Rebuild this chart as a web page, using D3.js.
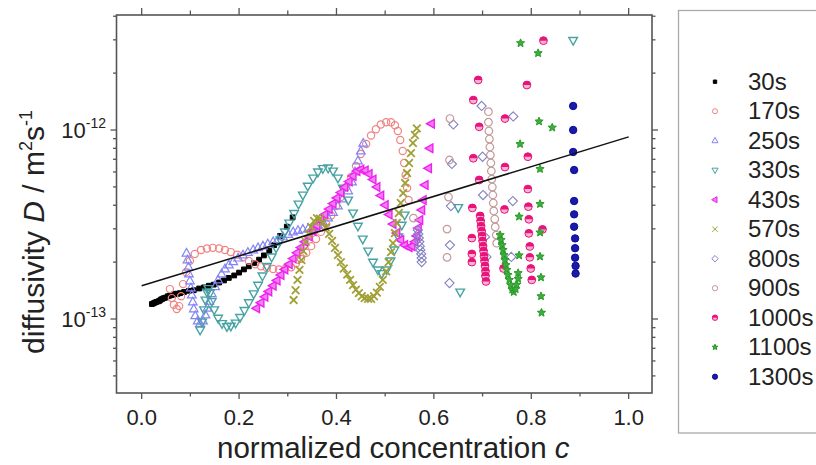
<!DOCTYPE html>
<html>
<head>
<meta charset="utf-8">
<script src="https://cdn.jsdelivr.net/npm/d3@7"></script>
<style>
  body { margin: 0; background: #fff; }
  svg { display: block; font-family: "Liberation Sans", Arial, sans-serif; }
</style>
</head>
<body>
<svg id="chart" width="816" height="465"></svg>
<script>
// D values are given in units of 1e-13 m^2/s, c is the normalized concentration
const UNIT = 1e-13;

const s30 = [[0.021,1.20],[0.024,1.21],[0.027,1.22],[0.030,1.23],[0.034,1.24],[0.037,1.25],[0.040,1.27],[0.043,1.28],
  [0.046,1.29],[0.050,1.30],[0.054,1.32],[0.058,1.33],[0.062,1.34],[0.066,1.35],[0.070,1.36],[0.074,1.36],[0.079,1.37],
  [0.087,1.39],[0.097,1.41],[0.107,1.42],[0.118,1.45],[0.128,1.47],[0.138,1.50],[0.148,1.52],[0.159,1.56],[0.169,1.60],
  [0.179,1.65],[0.190,1.70],[0.200,1.76],[0.210,1.83],[0.220,1.90],[0.231,1.98],[0.241,2.06],[0.251,2.17],[0.262,2.29],
  [0.272,2.46],[0.284,2.75],[0.298,3.08],[0.310,3.45]];

const s170 = [[0.058,1.44],[0.062,1.29],[0.066,1.19],[0.072,1.13],[0.077,1.17],[0.081,1.32],[0.085,1.53],[0.091,1.77],
  [0.099,2.03],[0.109,2.21],[0.122,2.32],[0.134,2.36],[0.146,2.38],[0.159,2.36],[0.171,2.32],[0.183,2.26],[0.196,2.19],
  [0.208,2.12],[0.220,2.03],[0.233,1.95],[0.245,1.90],[0.257,1.86],[0.270,1.84],[0.282,1.83],[0.294,1.84],[0.307,1.88],
  [0.317,1.97],[0.327,2.08],[0.338,2.24],[0.348,2.43],[0.358,2.65],[0.368,2.89],[0.379,3.18],[0.389,3.53],[0.399,3.96],
  [0.409,4.42],[0.420,4.99],[0.430,5.64],[0.440,6.45],[0.450,7.46],[0.461,8.43],[0.471,9.35],[0.481,10.1],[0.491,10.7],
  [0.502,11.0],[0.512,11.0],[0.520,10.6],[0.526,9.88],[0.531,8.85],[0.536,7.74],[0.539,6.69],[0.542,5.78],[0.545,4.93],
  [0.548,4.26]];

const s250 = [[0.092,2.23],[0.094,2.05],[0.096,1.88],[0.097,1.73],[0.099,1.59],[0.101,1.46],[0.103,1.34],[0.105,1.23],
  [0.107,1.13],[0.110,1.04],[0.115,0.976],[0.120,0.947],[0.126,0.976],[0.131,1.05],[0.135,1.14],[0.139,1.24],[0.144,1.36],
  [0.151,1.48],[0.157,1.61],[0.164,1.73],[0.171,1.84],[0.179,1.93],[0.188,2.01],[0.198,2.10],[0.208,2.18],[0.218,2.25],
  [0.229,2.32],[0.239,2.38],[0.249,2.43],[0.259,2.49],[0.270,2.56],[0.280,2.63],[0.290,2.72],[0.301,2.80],[0.311,2.89],
  [0.321,2.94],[0.331,2.98],[0.342,3.01],[0.352,3.07],[0.362,3.14],[0.372,3.26],[0.383,3.42],[0.393,3.66],[0.403,3.96],
  [0.413,4.32],[0.424,4.76],[0.432,5.31],[0.438,6.00],[0.444,6.86],[0.450,7.74],[0.455,8.51]];

const s330 = [[0.120,0.875],[0.124,0.964],[0.128,1.12],[0.131,1.26],[0.134,1.39],[0.137,1.45],[0.140,1.37],[0.144,1.24],
  [0.149,1.12],[0.157,1.01],[0.165,0.947],[0.175,0.913],[0.183,0.918],[0.193,0.953],[0.202,1.02],[0.211,1.11],[0.220,1.22],
  [0.230,1.36],[0.239,1.51],[0.248,1.69],[0.257,1.90],[0.267,2.13],[0.276,2.38],[0.285,2.62],[0.294,2.89],[0.303,3.22],
  [0.313,3.62],[0.322,4.06],[0.331,4.53],[0.341,5.05],[0.352,5.57],[0.362,6.00],[0.372,6.26],[0.383,6.30],[0.393,6.07],
  [0.403,5.57],[0.413,4.93],[0.424,4.26],[0.434,3.64],[0.444,3.10],[0.454,2.65],[0.465,2.29],[0.475,2.00],[0.485,1.82],
  [0.493,1.74],[0.503,1.82],[0.511,2.03],[0.519,2.32],[0.527,2.72],[0.534,3.14],[0.540,3.55],
  [0.650,3.89],[0.654,1.39],[0.886,29.8]];

const s430 = [[0.236,1.14],[0.245,1.22],[0.253,1.31],[0.261,1.40],[0.270,1.50],[0.278,1.60],[0.286,1.71],[0.294,1.83],
  [0.303,1.95],[0.311,2.09],[0.319,2.24],[0.327,2.39],[0.335,2.56],[0.344,2.73],[0.352,2.92],[0.360,3.12],[0.368,3.34],
  [0.376,3.57],[0.385,3.82],[0.393,4.08],[0.401,4.37],[0.409,4.67],[0.417,4.99],[0.426,5.34],[0.434,5.71],[0.442,6.07],
  [0.450,6.18],[0.459,6.11],[0.467,5.85],[0.475,5.47],[0.483,4.99],[0.491,4.50],[0.500,4.01],[0.508,3.57],[0.516,3.18],
  [0.524,2.85],[0.532,2.62],[0.540,2.46],[0.549,2.40],[0.555,2.43],[0.561,2.56],[0.565,2.75],[0.568,3.03],
  [0.571,3.34],[0.575,3.77],[0.578,4.26],[0.582,5.12],[0.589,6.27],[0.592,8.00],[0.595,10.8]];

const s570 = [[0.312,1.26],[0.316,1.42],[0.320,1.61],[0.324,1.82],[0.328,2.05],[0.332,2.29],[0.337,2.56],[0.343,2.82],
  [0.348,3.07],[0.354,3.30],[0.360,3.42],[0.366,3.40],[0.372,3.26],[0.378,3.05],[0.385,2.82],[0.391,2.59],[0.397,2.38],
  [0.403,2.18],[0.409,2.00],[0.415,1.85],[0.422,1.72],[0.428,1.61],[0.434,1.51],[0.440,1.43],[0.446,1.37],[0.452,1.32],
  [0.458,1.29],[0.465,1.28],[0.471,1.28],[0.477,1.32],[0.483,1.38],[0.489,1.48],[0.495,1.61],[0.502,1.79],[0.507,2.00],
  [0.512,2.26],[0.516,2.52],[0.520,2.85],[0.524,3.22],[0.528,3.64],[0.532,4.11],[0.537,4.64],[0.541,5.24],[0.545,5.92],
  [0.549,6.69],[0.553,7.55],[0.557,8.54],[0.561,9.41],[0.565,10.2]];

const s800 = [[0.567,2.96],[0.568,2.82],[0.569,2.68],[0.570,2.56],[0.571,2.43],[0.572,2.32],[0.574,2.21],[0.575,2.10],
  [0.575,2.00],[0.640,10.7],[0.637,6.61],[0.635,3.96],[0.633,2.46],[0.632,1.55],[0.698,13.4],[0.700,7.22],[0.701,4.53],
  [0.705,2.72],[0.708,2.13],[0.763,11.8],[0.762,4.21],[0.759,2.13]];

const s900 = [[0.712,12.5],[0.712,11.0],[0.713,9.88],[0.714,8.96],[0.715,8.13],[0.716,7.37],[0.717,6.69],[0.718,6.07],
  [0.719,5.50],[0.720,4.99],[0.721,4.53],[0.722,4.11],[0.723,3.73],[0.725,3.38],[0.726,3.07],[0.728,2.78],[0.729,2.52],
  [0.633,11.5],[0.632,6.94],[0.630,4.42],[0.627,2.99],[0.627,2.12],[0.558,3.42]];

const s1000 = [[0.825,29.7],[0.691,18.4],[0.791,17.3],[0.681,14.4],[0.746,11.5],[0.693,10.4],[0.793,7.22],[0.681,7.09],
  [0.746,6.37],[0.693,5.44],[0.793,4.87],[0.679,3.87],[0.745,3.80],[0.794,3.93],[0.795,3.37],[0.823,2.98],[0.795,2.84],
  [0.678,2.68],[0.797,2.42],[0.678,2.21],[0.678,2.00],[0.797,2.12],[0.799,1.85],[0.801,1.61],[0.743,1.85],
  [0.695,3.51],[0.696,3.30],[0.697,3.10],[0.698,2.92],[0.699,2.75],[0.700,2.59],[0.701,2.43],[0.702,2.29],[0.703,2.15],
  [0.704,2.03],[0.705,1.91],[0.706,1.79],[0.706,1.69],[0.707,1.58]];

const s1100 = [[0.778,28.8],[0.814,25.5],[0.816,11.1],[0.843,10.3],[0.777,8.43],[0.818,6.22],[0.818,4.06],[0.775,3.48],
  [0.818,2.87],[0.775,2.17],[0.818,2.14],[0.773,1.75],[0.820,1.66],[0.820,1.32],[0.821,1.08],
  [0.736,2.78],[0.738,2.62],[0.740,2.46],[0.742,2.32],[0.744,2.18],[0.746,2.05],[0.748,1.93],[0.750,1.82],[0.752,1.71],
  [0.755,1.61],[0.758,1.51],[0.761,1.43],[0.764,1.39],[0.768,1.44],[0.770,1.52],[0.773,1.63]];

const s1300 = [[0.886,13.4],[0.886,10.0],[0.886,7.65],[0.888,6.14],[0.888,4.21],[0.888,3.58],[0.888,3.08],[0.890,2.67],
  [0.890,2.37],[0.890,2.11],[0.891,1.91],[0.891,1.74]];

// straight fit line (exponential in c)
const fitC = [0.0, 1.0];
const fitD = [1.50, 9.2];

const xMajor = [0.0, 0.2, 0.4, 0.6, 0.8, 1.0];
const xMinor = [0.1, 0.3, 0.5, 0.7, 0.9];
const yMajor = [1e-13, 1e-12];
const yLabels = ["-13", "-12"];

const series = [
  { name: "30s", data: s30, shape: "square", size: 2.4, sw: 1, stroke: "#000", fill: "#000" },
  { name: "170s", data: s170, shape: "circle", size: 3.6, sw: 1.2, stroke: "#f08484", fill: "none" },
  { name: "250s", data: s250, shape: "triUp", size: 4.8, sw: 1.2, stroke: "#8484f4", fill: "none" },
  { name: "330s", data: s330, shape: "triDown", size: 4.8, sw: 1.4, stroke: "#47a2a2", fill: "none" },
  { name: "430s", data: s430, shape: "triLeft", size: 4.8, sw: 1.4, stroke: "#ee22ee", fill: "#f47cf4" },
  { name: "570s", data: s570, shape: "cross", size: 3.8, sw: 1.8, stroke: "#a0a036", fill: "none" },
  { name: "800s", data: s800, shape: "diamond", size: 4.6, sw: 1.1, stroke: "#8282c2", fill: "none" },
  { name: "900s", data: s900, shape: "circle", size: 3.8, sw: 1.2, stroke: "#c49a9a", fill: "none" },
  { name: "1000s", data: s1000, shape: "half", size: 3.9, sw: 1, stroke: "#e8147a", fill: "#f7b3d3" },
  { name: "1100s", data: s1100, shape: "star", size: 4.3, sw: 1, stroke: "#2a9a2a", fill: "#3cae3c" },
  { name: "1300s", data: s1300, shape: "circle", size: 3.7, sw: 1, stroke: "#0c0c96", fill: "#1a1aa8" },
];

const shapes = {
  square: (s) => `M${-s},${-s}h${2 * s}v${2 * s}h${-2 * s}Z`,
  circle: (r) => `M${r},0A${r},${r},0,1,1,${-r},0A${r},${r},0,1,1,${r},0Z`,
  triUp: (r) => `M0,${-r}L${r * 0.9},${r * 0.6}L${-r * 0.9},${r * 0.6}Z`,
  triDown: (r) => `M0,${r}L${r * 0.9},${-r * 0.6}L${-r * 0.9},${-r * 0.6}Z`,
  triLeft: (r) => `M${-r},0L${r * 0.6},${-r * 0.9}L${r * 0.6},${r * 0.9}Z`,
  cross: (r) => `M${-r},${-r}L${r},${r}M${-r},${r}L${r},${-r}`,
  diamond: (r) => `M0,${-r}L${r},0L0,${r}L${-r},0Z`,
  half: (r) => `M${r},0A${r},${r},0,1,1,${-r},0A${r},${r},0,1,1,${r},0Z`,
  star: (r) => {
    const pts = d3.range(10).map((i) => {
      const a = -Math.PI / 2 + (i * Math.PI) / 5;
      const rr = i % 2 ? r * 0.45 : r;
      return [rr * Math.cos(a), rr * Math.sin(a)].map((v) => v.toFixed(2)).join(",");
    });
    return "M" + pts.join("L") + "Z";
  },
};
const topHalf = (r) => `M${-r},0A${r},${r},0,0,1,${r},0Z`;

const svg = d3.select("#chart");
const margin = { left: 116.5, right: 652, top: 15, bottom: 393 };

const x = d3.scaleLinear().domain([-0.0517, 1.0479]).range([margin.left, margin.right]);
const y = d3.scaleLog().domain([4.06e-14, 4.06e-12]).range([margin.bottom, margin.top]);

const axisColor = "#555";

// minor log ticks 2..9 per decade
const yMinor = [];
[-14, -13, -12].forEach((e) => {
  d3.range(2, 10).forEach((k) => {
    const v = k * Math.pow(10, e);
    if (v > y.domain()[0] && v < y.domain()[1]) yMinor.push(v);
  });
});

const ticks = svg.append("g").attr("stroke", axisColor).attr("stroke-width", 1.3);
const tickLen = { major: 6, minor: 3.5 };

// bottom and top
[[xMajor, tickLen.major], [xMinor, tickLen.minor]].forEach(([vals, len]) => {
  ticks.selectAll(null).data(vals).join("line")
    .attr("x1", (d) => x(d)).attr("x2", (d) => x(d))
    .attr("y1", margin.bottom).attr("y2", margin.bottom + len);
  ticks.selectAll(null).data(vals).join("line")
    .attr("x1", (d) => x(d)).attr("x2", (d) => x(d))
    .attr("y1", margin.top).attr("y2", margin.top - len - 1);
});
// left and right
[[yMajor, tickLen.major], [yMinor, tickLen.minor]].forEach(([vals, len]) => {
  ticks.selectAll(null).data(vals).join("line")
    .attr("y1", (d) => y(d)).attr("y2", (d) => y(d))
    .attr("x1", margin.left).attr("x2", margin.left - len);
  ticks.selectAll(null).data(vals).join("line")
    .attr("y1", (d) => y(d)).attr("y2", (d) => y(d))
    .attr("x1", margin.right).attr("x2", margin.right + len);
});

// frame
svg.append("rect")
  .attr("x", margin.left).attr("y", margin.top)
  .attr("width", margin.right - margin.left)
  .attr("height", margin.bottom - margin.top)
  .attr("fill", "none").attr("stroke", axisColor).attr("stroke-width", 1.6);

// tick labels
svg.append("g").selectAll("text").data(xMajor).join("text")
  .attr("x", (d) => x(d)).attr("y", 425)
  .attr("text-anchor", "middle").attr("font-size", 22).attr("fill", "#222")
  .text((d) => d.toFixed(1));

const yl = svg.append("g").selectAll("text").data(yMajor).join("text")
  .attr("x", 106).attr("y", (d) => y(d) + 7.5)
  .attr("text-anchor", "end").attr("font-size", 22).attr("fill", "#222");
yl.append("tspan").text("10");
yl.append("tspan").attr("dy", -10).attr("font-size", 14).text((d, i) => yLabels[i]);

// axis titles
const xt = svg.append("text")
  .attr("x", 217).attr("y", 458)
  .attr("font-size", 29.5).attr("fill", "#222");
xt.append("tspan").text("normalized concentration ");
xt.append("tspan").attr("font-style", "italic").text("c");

const yt = svg.append("text")
  .attr("transform", "translate(44,232) rotate(-90)")
  .attr("text-anchor", "middle").attr("font-size", 30).attr("fill", "#222");
yt.append("tspan").text("diffusivity ");
yt.append("tspan").attr("font-style", "italic").text("D");
yt.append("tspan").text(" / m");
yt.append("tspan").attr("dy", -12).attr("font-size", 18).text("2");
yt.append("tspan").attr("dy", 12).text("s");
yt.append("tspan").attr("dy", -12).attr("font-size", 18).text("-1");

// data markers
const plot = svg.append("g");
series.forEach((s) => {
  const sg = plot.append("g").attr("class", `series s${s.name}`);
  sg.selectAll("path.mk").data(s.data).join("path")
    .attr("class", "mk")
    .attr("transform", (d) => `translate(${x(d[0])},${y(d[1] * UNIT)})`)
    .attr("d", shapes[s.shape](s.size))
    .attr("fill", s.fill)
    .attr("stroke", s.stroke)
    .attr("stroke-width", s.sw);
  if (s.shape === "half") {
    sg.selectAll("path.top").data(s.data).join("path")
      .attr("class", "top")
      .attr("transform", (d) => `translate(${x(d[0])},${y(d[1] * UNIT)})`)
      .attr("d", topHalf(s.size))
      .attr("fill", s.stroke);
  }
});

// fit line
const line = d3.line().x((d) => x(d[0])).y((d) => y(d[1] * UNIT));
svg.append("path")
  .datum(fitC.map((c, i) => [c, fitD[i]]))
  .attr("d", line)
  .attr("fill", "none").attr("stroke", "#111").attr("stroke-width", 1.5);

// legend
svg.append("rect")
  .attr("x", 678.5).attr("y", 10.5).attr("width", 200).attr("height", 422.5)
  .attr("fill", "none").attr("stroke", "#aaa").attr("stroke-width", 1.3);

const legend = svg.append("g").selectAll("g").data(series).join("g")
  .attr("transform", (d, i) => `translate(715,${81.7 + i * 29.5})`);
legend.append("path")
  .attr("d", (d) => shapes[d.shape](d.size * 0.7))
  .attr("fill", (d) => d.fill)
  .attr("stroke", (d) => d.stroke)
  .attr("stroke-width", 1);
legend.filter((d) => d.shape === "half").append("path")
  .attr("d", (d) => topHalf(d.size * 0.7))
  .attr("fill", (d) => d.stroke);
legend.append("text")
  .attr("x", 33).attr("y", 7.8)
  .attr("font-size", 24).attr("fill", "#222")
  .text((d) => d.name);
</script>
</body>
</html>
